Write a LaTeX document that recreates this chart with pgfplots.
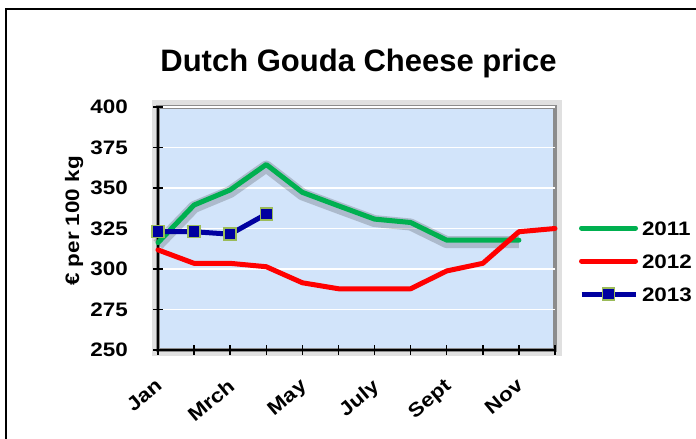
\documentclass[border=0pt]{standalone}
\usepackage{pgfplots}
\pgfplotsset{compat=1.18}
\usepackage{fontspec}
\setmainfont{Liberation Sans}
\newfontfamily\lbl[FakeStretch=1.15]{Liberation Sans}
\definecolor{bgblue}{RGB}{210,228,250}
\definecolor{cgreen}{RGB}{0,176,80}
\definecolor{cred}{RGB}{255,0,0}
\definecolor{cblue}{RGB}{0,0,160}
\definecolor{olivec}{RGB}{155,187,89}
\newcommand\tickfont{\lbl\bfseries\fontsize{19.5}{22}\selectfont}
\begin{document}
\begin{tikzpicture}[x=1pt,y=1pt]
\useasboundingbox (0,0) rectangle (696,439);
\draw[line width=2pt] (6,0) -- (6,430) -- (696,430);
\node[font=\bfseries\fontsize{31}{36}\selectfont, anchor=base] at (358.5,367) {Dutch Gouda Cheese price};
\node[rotate=90, font=\tickfont] at (74,218) {€ per 100 kg};
\begin{axis}[
  at={(158pt,89pt)}, anchor=south west, scale only axis,
  width=397pt, height=243pt,
  xmin=1, xmax=12, ymin=250, ymax=400,
  xtick={1,...,12}, xticklabels={Jan,,Mrch,,May,,July,,Sept,,Nov,},
  ytick={250,275,...,400},
  axis x line*=bottom, axis y line*=left,
  axis line style={-, black, line width=1.5pt},
  tick align=center, major tick length=10pt,
  tick style={black, line width=1.5pt},
  ymajorgrids, major grid style={white, line width=1.5pt},
  clip=false,
  /pgf/number format/assume math mode=true,
  yticklabel style={font=\tickfont, inner sep=0pt, xshift=-25pt},
  xticklabel style={font=\tickfont, rotate=40, anchor=north east, inner sep=0pt, xshift=-17pt, yshift=-15pt},
  axis background/.style={fill=bgblue, draw=black!45, line width=3.5pt,
     preaction={draw=black!12, line width=13pt}},
  legend style={at={(1.06,0.366)}, anchor=west, draw=none, fill=none,
     font=\tickfont, row sep=17pt, inner sep=0pt,
     nodes={inner sep=1pt, text height=14pt, text depth=0pt},
     /tikz/every odd column/.append style={column sep=3pt}},
  legend cell align=left,
  legend image code/.code={\draw[mark repeat=2,mark phase=2,#1] plot coordinates {(0pt,0pt) (27pt,0pt) (54pt,0pt)};},
]
\addplot[forget plot, black, opacity=0.18, line width=12pt, line join=round, yshift=-2pt] coordinates {
 (1,316.3) (2,339.5) (3,348.8) (4,364.5) (5,347.3) (6,339) (7,330.8) (8,328.7) (9,317.8) (10,317.8) (11,317.8)};
\addplot[cgreen, line width=5pt, line join=round, line cap=round] coordinates {
 (1,316.3) (2,339.5) (3,348.8) (4,364.5) (5,347.3) (6,339) (7,330.8) (8,328.7) (9,317.8) (10,317.8) (11,317.8)};
\addlegendentry{2011}
\addplot[cred, line width=5pt, line join=round, line cap=round] coordinates {
 (1,311.8) (2,303.5) (3,303.5) (4,301.4) (5,291.5) (6,287.8) (7,287.8) (8,287.8) (9,298.8) (10,303.5) (11,323) (12,325)};
\addlegendentry{2012}
\addplot[cblue, line width=5pt, mark=square*, mark size=6pt,
  mark options={fill=cblue, draw=olivec, line width=1.5pt}] coordinates {
 (1,323) (2,323) (3,321.5) (4,333.9)};
\addlegendentry{2013}
\end{axis}
\end{tikzpicture}
\end{document}
